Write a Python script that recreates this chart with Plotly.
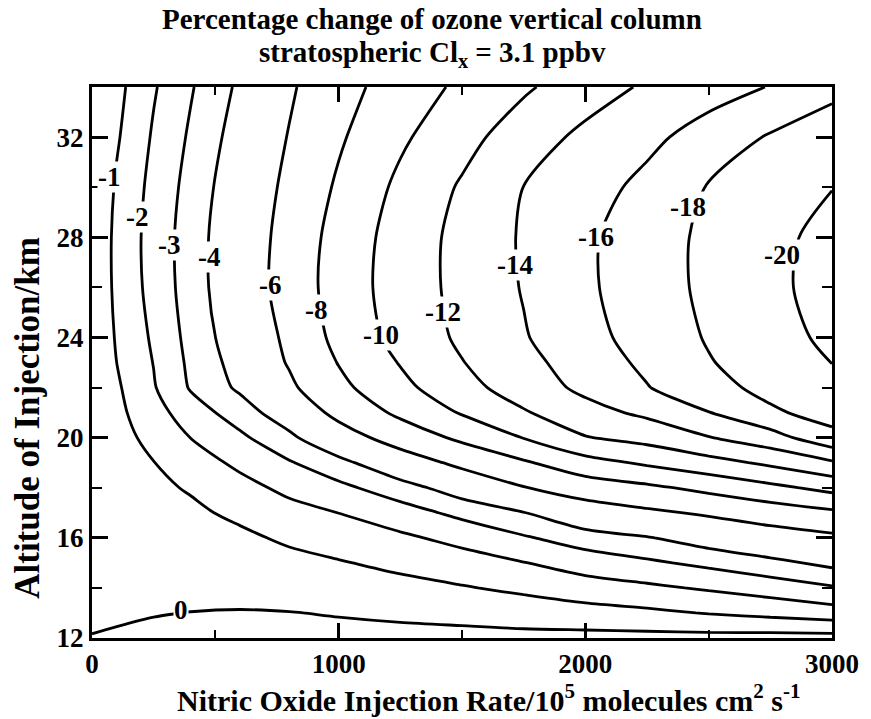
import plotly.graph_objects as go

# ---------------- data ----------------
rate = [0, 100, 250, 400, 600, 800, 1000, 1250, 1500, 1750, 2000, 2250, 2500, 2750, 3000]
altitude = [12, 13, 14, 15, 16, 17, 18, 19, 20, 21, 22, 23, 24, 26, 28, 30, 32, 34]
ozone_change = [
    [0.01, 0.10, 0.15, 0.20, 0.25, 0.25, 0.25, 0.30, 0.30, 0.27, 0.30, 0.30, 0.30, 0.35, 0.35],
    [-0.05, -0.12, -0.03, 0.01, 0.04, 0.02, -0.05, -0.18, -0.31, -0.46, -0.64, -0.81, -1.05, -1.28, -1.55],
    [-0.05, -0.18, -0.19, -0.20, -0.25, -0.36, -0.49, -0.70, -0.93, -1.20, -1.54, -1.81, -2.12, -2.46, -2.89],
    [-0.05, -0.24, -0.35, -0.41, -0.54, -0.74, -0.93, -1.24, -1.57, -1.97, -2.47, -2.83, -3.24, -3.71, -4.27],
    [-0.05, -0.30, -0.51, -0.62, -0.82, -1.15, -1.46, -1.82, -2.30, -2.89, -3.48, -3.92, -4.55, -5.14, -5.62],
    [-0.05, -0.36, -0.66, -0.83, -1.19, -1.67, -2.01, -2.58, -3.26, -3.96, -5.02, -5.66, -6.24, -6.92, -7.64],
    [-0.05, -0.43, -0.82, -1.08, -1.68, -2.24, -2.76, -3.53, -4.59, -5.92, -6.94, -7.62, -8.52, -9.52, -10.59],
    [-0.05, -0.52, -0.98, -1.54, -2.21, -2.92, -3.65, -5.01, -6.45, -7.76, -9.28, -10.31, -11.31, -12.38, -13.73],
    [-0.05, -0.64, -1.29, -2.01, -2.81, -3.75, -5.12, -6.84, -8.39, -10.07, -11.90, -12.67, -13.90, -15.17, -17.43],
    [-0.05, -0.76, -1.61, -2.52, -3.47, -4.69, -6.50, -8.39, -10.16, -11.82, -13.32, -14.40, -15.94, -17.70, -18.75],
    [-0.05, -0.86, -1.92, -3.09, -4.19, -5.67, -7.51, -9.48, -11.33, -12.96, -14.45, -15.91, -17.34, -18.56, -19.60],
    [-0.05, -1.00, -2.03, -3.21, -4.44, -6.15, -8.08, -10.11, -11.93, -13.43, -14.93, -16.41, -17.88, -18.97, -20.02],
    [-0.05, -1.10, -2.15, -3.32, -4.67, -6.37, -8.56, -10.64, -12.34, -13.85, -15.36, -16.80, -18.16, -19.37, -20.35],
    [-0.05, -1.24, -2.33, -3.47, -4.92, -6.76, -8.88, -10.90, -12.57, -14.12, -15.68, -17.08, -18.42, -19.70, -20.50],
    [-0.05, -1.26, -2.38, -3.48, -4.91, -6.66, -8.74, -10.83, -12.58, -14.21, -15.67, -17.08, -18.42, -19.65, -20.40],
    [-0.05, -1.12, -2.30, -3.34, -4.76, -6.40, -8.27, -10.42, -12.22, -14.02, -15.18, -16.52, -18.12, -19.06, -19.97],
    [-0.05, -0.89, -2.12, -3.14, -4.49, -6.09, -7.75, -9.68, -11.34, -13.03, -14.46, -15.51, -16.85, -18.18, -18.80],
    [-0.05, -0.71, -1.90, -2.91, -4.20, -5.77, -7.27, -8.92, -10.38, -11.72, -13.06, -14.27, -15.16, -16.08, -17.60],
]

# contour levels: 0 to -4 every 1, -6 to -20 every 2
fine_start, fine_end, fine_step = -4, 0, 1
coarse_start, coarse_end, coarse_step = -20, -6, 2

# contour labels
label_text = ["0", "-1", "-2", "-3", "-4", "-6", "-8", "-10", "-12", "-14", "-16", "-18", "-20"]
label_rate = [362, 72, 185, 314, 475, 724, 910, 1172, 1421, 1715, 2045, 2418, 2797]
label_alt = [13.1, 30.4, 28.8, 27.7, 27.2, 26.1, 25.1, 24.1, 25.0, 26.9, 28.0, 29.2, 27.3]

x_ticks = [0, 1000, 2000, 3000]
y_ticks = [12, 16, 20, 24, 28, 32]

title_lines = ["Percentage change of ozone vertical column",
               "stratospheric Cl<sub>x</sub> = 3.1 ppbv"]
x_title = "Nitric Oxide Injection Rate/10<sup>5</sup> molecules cm<sup>2</sup> s<sup>-1</sup>"
y_title = "Altitude of Injection/km"

# ---------------- figure ----------------
FONT = "Liberation Serif"
LINE_W = 2.8

fig = go.Figure()
for start, end, step in [(fine_start, fine_end, fine_step), (coarse_start, coarse_end, coarse_step)]:
    fig.add_trace(go.Contour(
        x=rate, y=altitude, z=ozone_change,
        contours=dict(start=start, end=end, size=step, coloring="none", showlabels=False),
        line=dict(color="black", width=LINE_W, smoothing=0.8),
        showscale=False, hoverinfo="skip",
    ))

for t, xv, yv in zip(label_text, label_rate, label_alt):
    fig.add_annotation(x=xv, y=yv, text=f"<b>{t}</b>", showarrow=False,
                       font=dict(family=FONT, size=27, color="black"),
                       bgcolor="white", borderpad=0, xanchor="center", yanchor="middle")

for line_text, ypos in zip(title_lines, [1.1234, 1.0599]):
    fig.add_annotation(xref="paper", yref="paper", x=0.46, y=ypos,
                       text=f"<b>{line_text}</b>", showarrow=False,
                       xanchor="center", yanchor="middle",
                       font=dict(family=FONT, size=29, color="black"))

fig.add_annotation(xref="paper", yref="paper", x=0.536, y=-0.147,
                   text=f"<b>{x_title}</b>", showarrow=False,
                   xanchor="center", yanchor="bottom",
                   font=dict(family=FONT, size=30, color="black"))
fig.add_annotation(xref="paper", yref="paper", x=-0.087, y=0.399,
                   text=f"<b>{y_title}</b>", showarrow=False, textangle=-90,
                   xanchor="center", yanchor="middle",
                   font=dict(family=FONT, size=35, color="black"))

axis_common = dict(showline=True, linewidth=3, linecolor="black", mirror="ticks",
                   ticks="inside", tickwidth=2.5, tickcolor="black", showgrid=False,
                   zeroline=False,
                   tickfont=dict(family=FONT, size=27, color="black", weight="bold"))

fig.update_xaxes(range=[0, 3000], tickvals=x_ticks, ticklen=15,
                 minor=dict(dtick=500, ticklen=8, ticks="inside", tickwidth=2, tickcolor="black"),
                 **axis_common)
fig.update_yaxes(range=[12, 34], tickvals=y_ticks, ticklen=16,
                 minor=dict(tick0=12, dtick=2, ticklen=10, ticks="inside", tickwidth=2, tickcolor="black"),
                 **axis_common)

fig.update_layout(width=871, height=719, margin=dict(l=92, r=34, t=87, b=81),
                  plot_bgcolor="white", paper_bgcolor="white", showlegend=False)

fig.write_html("out.html")
